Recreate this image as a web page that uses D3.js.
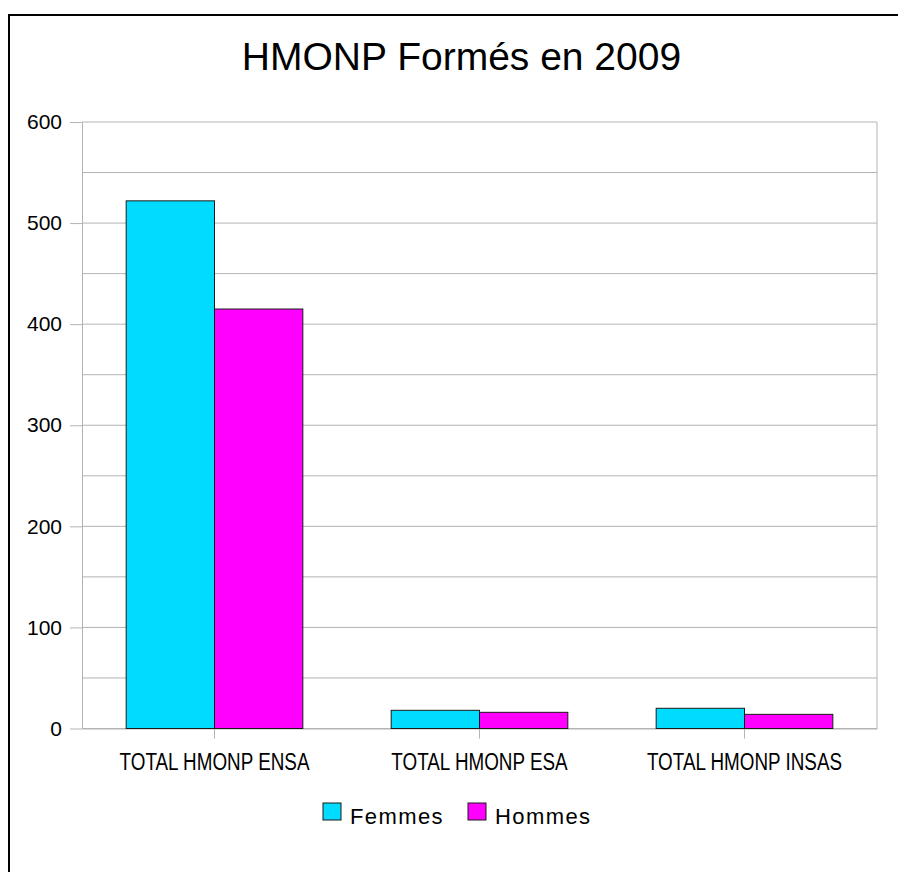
<!DOCTYPE html>
<html>
<head>
<meta charset="utf-8">
<script src="https://cdn.jsdelivr.net/npm/d3@7"></script>
<style>
  body { margin: 0; background: #fff; }
  text { font-family: "Liberation Sans", Arial, sans-serif; fill: #000; }
</style>
</head>
<body>
<svg id="chart" width="898" height="872"></svg>
<script>
var categories = [ "TOTAL HMONP ENSA", "TOTAL HMONP ESA", "TOTAL HMONP INSAS" ];
var seriesNames = [ "Femmes", "Hommes" ];
var femmes = [ 522, 18, 20 ];
var hommes = [ 415, 16, 14 ];
var yTicks = [ 0, 100, 200, 300, 400, 500, 600 ];
var yGrid = d3.range( 0, 601, 50 );
var colors = [ "#00dcff", "#ff00ff" ];

var svg = d3.select( "#chart" );
var plotL = 82, plotR = 877, plotT = 122, plotB = 728.5;

// outer frame (only top and left edges fall inside the picture)
svg.append( "rect" )
    .attr( "x", 9 ).attr( "y", 15 )
    .attr( "width", 1000 ).attr( "height", 1000 )
    .attr( "fill", "none" ).attr( "stroke", "#000" ).attr( "stroke-width", 2 );

svg.append( "text" )
    .attr( "x", 461.5 ).attr( "y", 70 )
    .attr( "text-anchor", "middle" )
    .style( "font-size", "39px" )
    .text( "HMONP Formés en 2009" );

var y = d3.scaleLinear().domain( [ 0, 600 ] ).range( [ plotB, plotT ] );
var x0 = d3.scaleBand().domain( categories ).range( [ plotL, plotR ] ).padding( 0 );
var x1 = d3.scaleBand().domain( seriesNames )
    .range( [ 0, x0.bandwidth() ] ).paddingInner( 0 ).paddingOuter( 0.5 );

// grid
svg.append( "g" ).selectAll( "line" ).data( yGrid ).enter().append( "line" )
    .attr( "x1", plotL ).attr( "x2", plotR )
    .attr( "y1", d => y(d) ).attr( "y2", d => y(d) )
    .attr( "stroke", "#b3b3b3" ).attr( "stroke-width", 1 );

svg.append( "line" )
    .attr( "x1", plotR ).attr( "x2", plotR ).attr( "y1", plotT ).attr( "y2", plotB )
    .attr( "stroke", "#b3b3b3" );

// y axis
var yAxis = svg.append( "g" )
    .attr( "transform", "translate(" + plotL + ",0)" )
    .call( d3.axisLeft( y ).tickValues( yTicks ).tickSizeInner( 12 ).tickSizeOuter( 0 ).tickPadding( 8 ) );
yAxis.select( ".domain" ).attr( "stroke", "#b3b3b3" );
yAxis.selectAll( ".tick line" ).attr( "stroke", "#b3b3b3" );
yAxis.selectAll( ".tick text" )
    .style( "font-size", "21px" ).style( "font-family", "Liberation Sans, Arial, sans-serif" )
    .attr( "fill", "#000" );

// x axis
var xAxis = svg.append( "g" )
    .attr( "transform", "translate(0," + plotB + ")" )
    .call( d3.axisBottom( x0 ).tickSizeInner( 10 ).tickSizeOuter( 0 ).tickFormat( "" ) );
xAxis.select( ".domain" ).attr( "stroke", "#b3b3b3" );
xAxis.selectAll( ".tick line" ).attr( "stroke", "#b3b3b3" );

svg.append( "g" ).selectAll( "text" ).data( categories ).enter().append( "text" )
    .attr( "transform", d => "translate(" + (x0(d) + x0.bandwidth()/2) + ",770) scale(0.82,1)" )
    .attr( "text-anchor", "middle" )
    .style( "font-size", "23px" )
    .text( d => d );

// bars
var rows = categories.map( (c, i) => ({ cat: c, vals: [ femmes[i], hommes[i] ] }) );
var groups = svg.append( "g" ).selectAll( "g" ).data( rows ).enter().append( "g" )
    .attr( "transform", d => "translate(" + x0(d.cat) + ",0)" );
groups.selectAll( "rect" )
    .data( d => d.vals.map( (v, j) => ({ name: seriesNames[j], val: v, j: j }) ) )
    .enter().append( "rect" )
    .attr( "x", d => x1(d.name) ).attr( "width", x1.bandwidth() )
    .attr( "y", d => y(d.val) ).attr( "height", d => plotB - y(d.val) )
    .attr( "fill", d => colors[d.j] )
    .attr( "stroke", "#1a1a1a" ).attr( "stroke-width", 1 );

// legend
var legendX = [ 323, 468 ];
var leg = svg.append( "g" ).selectAll( "g" ).data( seriesNames ).enter().append( "g" )
    .attr( "transform", (d, i) => "translate(" + legendX[i] + ",803)" );
leg.append( "rect" )
    .attr( "width", 18 ).attr( "height", 17 )
    .attr( "fill", (d, i) => colors[i] )
    .attr( "stroke", "#1a1a1a" ).attr( "stroke-width", 1 );
leg.append( "text" )
    .attr( "x", 27 ).attr( "y", 21 )
    .style( "font-size", "22px" ).style( "letter-spacing", "1.4px" )
    .text( d => d );
</script>
</body>
</html>
